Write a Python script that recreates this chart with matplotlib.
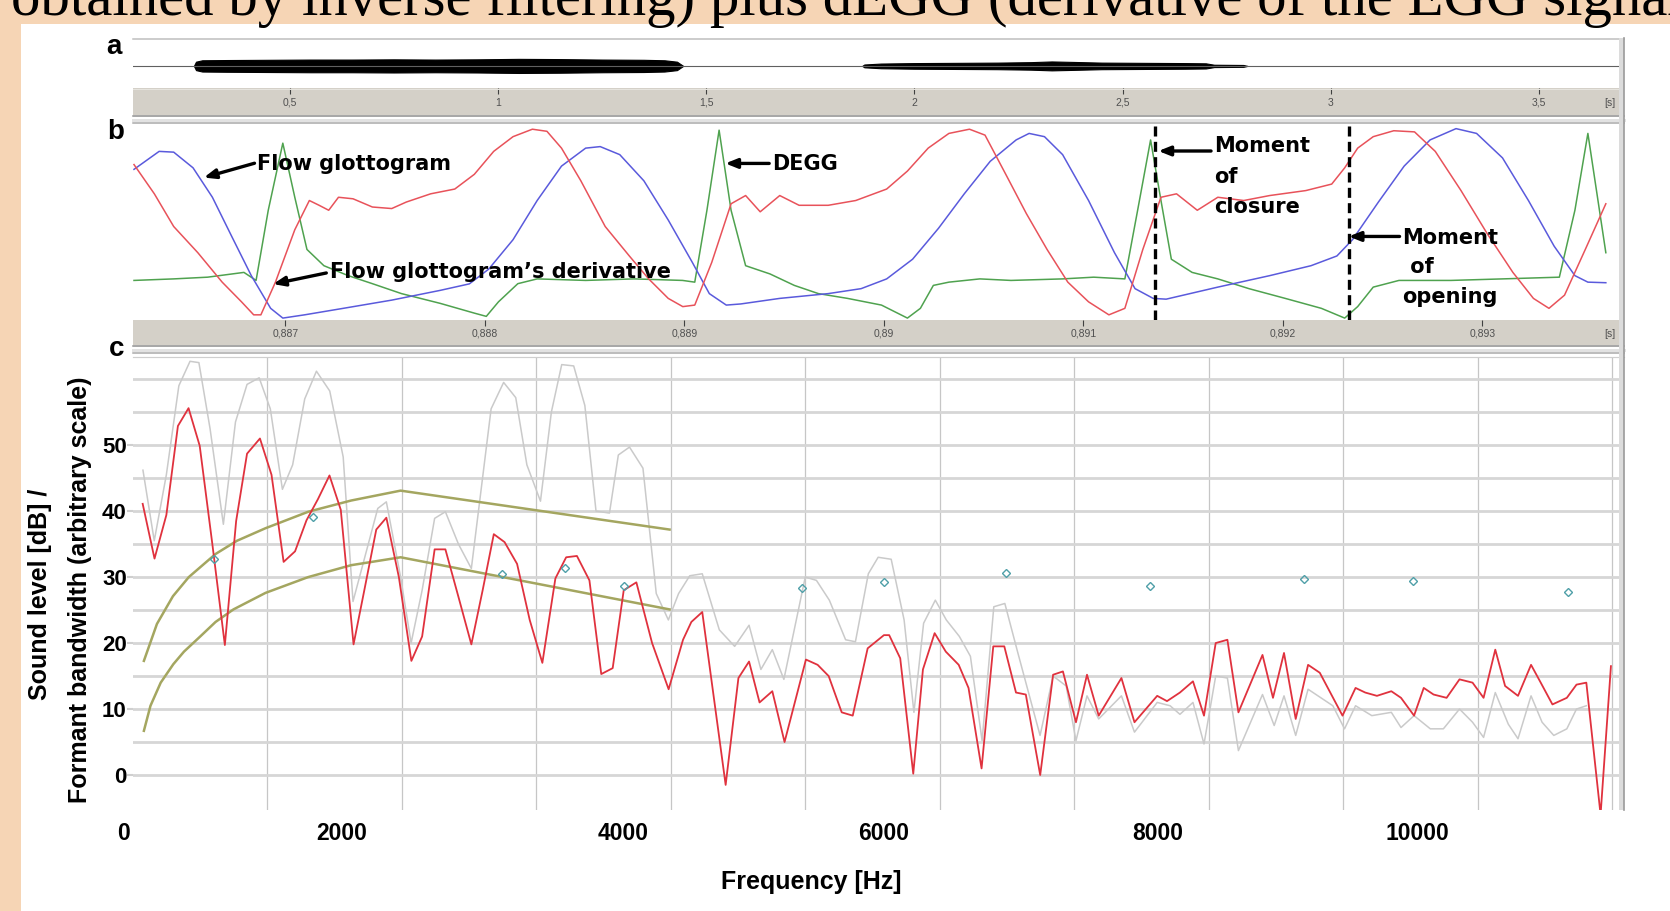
import matplotlib
matplotlib.use("Agg")
import matplotlib.pyplot as plt
import numpy as np
from matplotlib.patches import Rectangle
from matplotlib.lines import Line2D
from matplotlib import font_manager

# ---------------------------------------------------------------- data
title_text = "obtained by inverse filtering) plus dEGG (derivative of the EGG signal)"
title_visible = "obtained by inverse filtering) plus dEGG (derivative of the EGG signa"

# panel a : whole recording (time in s), waveform envelope
time_ticks_s = [0.5, 1.0, 1.5, 2.0, 2.5, 3.0, 3.5]
time_tick_labels = ["0,5", "1", "1,5", "2", "2,5", "3", "3,5"]
wave1_t = [0.27, 0.275, 0.29, 0.35, 0.45, 0.55, 0.65, 0.75, 0.85, 0.95, 1.05, 1.15, 1.25, 1.35, 1.40, 1.43, 1.445]
wave1_amp = [0.0, 0.18, 0.24, 0.25, 0.26, 0.27, 0.27, 0.28, 0.27, 0.28, 0.30, 0.29, 0.27, 0.26, 0.24, 0.18, 0.0]
wave2_t = [1.875, 1.88, 1.92, 2.0, 2.1, 2.2, 2.28, 2.33, 2.38, 2.45, 2.55, 2.65, 2.70, 2.72, 2.79, 2.80]
wave2_amp = [0.0, 0.06, 0.10, 0.12, 0.13, 0.14, 0.16, 0.19, 0.17, 0.14, 0.13, 0.12, 0.11, 0.05, 0.04, 0.0]

# panel b : zoomed signals (time in s, normalised amplitude 0..1)
zoom_ticks_s = [0.887, 0.888, 0.889, 0.890, 0.891, 0.892, 0.893]
zoom_tick_labels = ["0,887", "0,888", "0,889", "0,89", "0,891", "0,892", "0,893"]
flow_t = [0.886241, 0.886367, 0.886440, 0.886537, 0.886634, 0.886731, 0.886829, 0.886926,
          0.886987, 0.887096, 0.887290, 0.887533, 0.887776, 0.887922, 0.888019, 0.888141,
          0.888262, 0.888384, 0.888505, 0.888578, 0.888676, 0.888797, 0.888919, 0.889040,
          0.889125, 0.889210, 0.889283, 0.889478, 0.889721, 0.889886, 0.890014, 0.890144,
          0.890274, 0.890403, 0.890533, 0.890663, 0.890728, 0.890805, 0.890896, 0.891026,
          0.891156, 0.891259, 0.891350, 0.891415, 0.891674, 0.891934, 0.892141, 0.892271,
          0.892349, 0.892479, 0.892608, 0.892738, 0.892868, 0.892971, 0.893101, 0.893231,
          0.893360, 0.893464, 0.893529, 0.893619]
flow_v = [0.778, 0.872, 0.868, 0.786, 0.632, 0.427, 0.222, 0.051, 0.0, 0.017, 0.051, 0.094,
          0.145, 0.179, 0.256, 0.41, 0.615, 0.795, 0.889, 0.897, 0.855, 0.718, 0.513, 0.291,
          0.128, 0.068, 0.074, 0.103, 0.128, 0.154, 0.205, 0.308, 0.47, 0.65, 0.82, 0.932,
          0.966, 0.949, 0.855, 0.615, 0.342, 0.154, 0.103, 0.099, 0.162, 0.222, 0.274, 0.325,
          0.41, 0.607, 0.795, 0.932, 0.991, 0.966, 0.838, 0.615, 0.376, 0.222, 0.188, 0.185]
deriv_t = [0.886241, 0.886343, 0.886440, 0.886561, 0.886683, 0.886780, 0.886841, 0.886877,
           0.886950, 0.887047, 0.887120, 0.887169, 0.887217, 0.887266, 0.887339, 0.887436,
           0.887533, 0.887606, 0.887728, 0.887849, 0.887947, 0.888044, 0.888141, 0.888238,
           0.888311, 0.888384, 0.888481, 0.888603, 0.888724, 0.888821, 0.888919, 0.888992,
           0.889052, 0.889137, 0.889234, 0.889307, 0.889380, 0.889478, 0.889575, 0.889721,
           0.889859, 0.890014, 0.890118, 0.890222, 0.890326, 0.890429, 0.890507, 0.890611,
           0.890714, 0.890818, 0.890922, 0.891026, 0.891128, 0.891208, 0.891298, 0.891389,
           0.891467, 0.891571, 0.891674, 0.891804, 0.891934, 0.892115, 0.892245, 0.892310,
           0.892375, 0.892453, 0.892556, 0.892660, 0.892764, 0.892893, 0.893023, 0.893153,
           0.893256, 0.893334, 0.893412, 0.893516, 0.893619]
deriv_v = [0.803, 0.65, 0.479, 0.342, 0.188, 0.085, 0.017, 0.017, 0.188, 0.462, 0.615, 0.59,
           0.564, 0.632, 0.624, 0.581, 0.573, 0.607, 0.65, 0.675, 0.752, 0.872, 0.949, 0.988,
           0.977, 0.889, 0.718, 0.479, 0.325, 0.205, 0.103, 0.06, 0.068, 0.291, 0.598, 0.641,
           0.556, 0.641, 0.59, 0.59, 0.615, 0.675, 0.769, 0.889, 0.966, 0.988, 0.957, 0.752,
           0.547, 0.359, 0.188, 0.085, 0.017, 0.051, 0.359, 0.632, 0.65, 0.564, 0.632, 0.615,
           0.641, 0.667, 0.701, 0.786, 0.889, 0.949, 0.98, 0.974, 0.872, 0.667, 0.444, 0.239,
           0.103, 0.051, 0.12, 0.359, 0.598]
degg_t = [0.886241, 0.886440, 0.886610, 0.886792, 0.886853, 0.886914, 0.886987, 0.887047,
          0.887108, 0.887193, 0.887315, 0.887436, 0.887582, 0.887776, 0.887947, 0.888007,
          0.888068, 0.888165, 0.888262, 0.888505, 0.888748, 0.888991, 0.889052, 0.889113,
          0.889174, 0.889234, 0.889307, 0.889429, 0.889551, 0.889672, 0.889818, 0.889988,
          0.890118, 0.890183, 0.890248, 0.890326, 0.890481, 0.890637, 0.890896, 0.891052,
          0.891208, 0.891272, 0.891337, 0.891389, 0.891441, 0.891545, 0.891674, 0.891830,
          0.892012, 0.892193, 0.892310, 0.892375, 0.892453, 0.892582, 0.892842, 0.893101,
          0.893386, 0.893464, 0.893529, 0.893619]
degg_v = [0.197, 0.205, 0.214, 0.239, 0.197, 0.564, 0.915, 0.632, 0.359, 0.274, 0.222, 0.18,
          0.128, 0.077, 0.026, 0.009, 0.085, 0.18, 0.205, 0.197, 0.205, 0.197, 0.188, 0.564,
          0.983, 0.564, 0.274, 0.231, 0.171, 0.128, 0.103, 0.068, 0.0, 0.051, 0.171, 0.188,
          0.205, 0.197, 0.205, 0.214, 0.205, 0.564, 0.932, 0.615, 0.308, 0.239, 0.205, 0.154,
          0.103, 0.051, 0.0, 0.06, 0.162, 0.197, 0.197, 0.205, 0.214, 0.564, 0.966, 0.342]
moment_closure_s = 0.89136
moment_opening_s = 0.89233

# panel c : spectrum (Hz, dB)
spec_hz = [72, 160, 248, 334, 413, 496, 590, 683, 767, 848, 944, 1030, 1120, 1205, 1290, 1375,
           1461, 1545, 1640, 1720, 1809, 1884, 1977, 2070, 2150, 2243, 2323, 2420, 2516, 2600,
           2683, 2763, 2856, 2950, 3044, 3141, 3221, 3301, 3394, 3482, 3567, 3649, 3743, 3860,
           3983, 4090, 4152, 4233, 4407, 4502, 4581, 4659, 4754, 4845, 5004, 5091, 5173, 5270,
           5352, 5463, 5584, 5623, 5705, 5802, 5874, 5961, 6044, 6140, 6213, 6310, 6397, 6479,
           6566, 6639, 6746, 6842, 6915, 7012, 7094, 7181, 7350, 7447, 7616, 7689, 7785, 7882,
           7964, 8051, 8138, 8220, 8399, 8477, 8559, 8646, 8738, 8825, 8994, 9091, 9163, 9250,
           9357, 9429, 9526, 9598, 9671, 9768, 9864, 9961, 10043, 10130, 10203, 10299, 10396,
           10468, 10555, 10662, 10734, 10807, 10913, 10990]
spec_db = [41.1, 32.8, 39.4, 52.9, 55.6, 49.9, 35.0, 19.7, 38.5, 48.7, 51.0, 45.5, 32.3, 33.9,
           38.6, 41.8, 45.4, 40.2, 19.8, 28.0, 37.2, 39.0, 30.0, 17.3, 21.0, 34.2, 34.2, 27.0,
           19.8, 28.0, 36.5, 35.3, 32.0, 23.5, 17.0, 29.8, 33.0, 33.2, 29.5, 15.3, 16.2, 28.0,
           29.2, 20.0, 13.0, 20.5, 23.2, 24.7, -1.5, 14.7, 17.2, 11.0, 12.7, 5.0, 17.5, 16.7,
           15.0, 9.5, 9.0, 19.2, 21.2, 21.2, 17.7, 0.2, 16.0, 21.5, 18.7, 16.7, 13.2, 1.0,
           19.5, 19.5, 12.5, 12.2, 0.0, 15.2, 15.7, 8.0, 15.2, 9.0, 14.7, 8.0, 12.0, 11.2,
           12.5, 14.2, 9.0, 20.0, 20.5, 9.5, 18.2, 11.7, 18.5, 8.5, 16.7, 15.5, 9.0, 13.2,
           12.5, 12.0, 12.7, 11.7, 9.0, 13.2, 12.2, 11.7, 14.5, 14.0, 11.7, 19.0, 13.5, 12.0,
           16.7, 14.0, 10.7, 11.7, 13.7, 14.0, -6.0, 16.5]
raw_hz = [74, 158, 248, 341, 424, 490, 573, 672, 762, 848, 938, 1021, 1111, 1187, 1277, 1364,
          1463, 1563, 1636, 1820, 1884, 1990, 2068, 2150, 2243, 2323, 2420, 2516, 2663, 2756,
          2846, 2929, 3030, 3111, 3188, 3277, 3360, 3443, 3543, 3609, 3692, 3792, 3891, 3981,
          4057, 4140, 4233, 4360, 4474, 4581, 4669, 4754, 4840, 4999, 5082, 5178, 5299, 5372,
          5468, 5541, 5638, 5734, 5807, 5879, 5966, 6048, 6145, 6227, 6314, 6401, 6483, 6580,
          6745, 6842, 6939, 7012, 7094, 7181, 7350, 7447, 7616, 7712, 7785, 7882, 7964, 8051,
          8138, 8220, 8399, 8486, 8559, 8646, 8738, 8922, 9009, 9091, 9212, 9357, 9429, 9526,
          9647, 9744, 9864, 9961, 10043, 10130, 10227, 10299, 10396, 10478, 10565, 10662,
          10734, 10807]
raw_db = [46.2, 35.5, 45.5, 59.0, 62.7, 62.5, 52.5, 38.0, 53.5, 59.2, 60.2, 55.5, 43.3, 47.0,
          57.0, 61.2, 58.2, 48.2, 26.3, 40.4, 41.4, 30.0, 20.0, 28.0, 38.9, 39.9, 35.0, 31.3,
          55.5, 59.5, 57.2, 47.0, 41.5, 55.0, 62.2, 62.0, 56.0, 40.0, 39.7, 48.5, 49.7, 46.5,
          27.5, 23.5, 27.5, 30.2, 30.5, 22.0, 19.5, 22.7, 16.0, 19.0, 14.5, 30.0, 29.5, 26.5,
          20.5, 20.2, 30.5, 33.0, 32.7, 23.5, 9.5, 23.0, 26.5, 23.5, 21.0, 18.0, 5.2, 25.5,
          26.0, 18.5, 6.0, 15.0, 13.5, 5.2, 12.0, 8.5, 12.0, 6.5, 11.0, 10.5, 9.2, 11.0, 4.7,
          15.0, 14.7, 3.7, 12.2, 7.5, 12.0, 6.0, 13.0, 10.5, 7.0, 10.5, 9.0, 9.5, 7.2, 9.0,
          7.0, 7.0, 10.0, 8.0, 5.7, 12.5, 7.7, 5.5, 12.0, 8.0, 6.0, 7.0, 10.0, 10.5]
formant_hz = [600, 1335, 2745, 3210, 3652, 4975, 5585, 6490, 7560, 8705, 9520, 10670]
formant_db = [32.8, 39.1, 30.5, 31.3, 28.6, 28.4, 29.2, 30.6, 28.6, 29.7, 29.4, 27.7]
upper_hz = [81, 178, 297, 415, 614, 773, 985, 1303, 1622, 1990, 3990]
upper_db = [17.3, 22.9, 27.1, 30.0, 33.5, 35.5, 37.4, 39.9, 41.6, 43.1, 37.2]
lower_hz = [81, 130, 206, 300, 379, 500, 614, 747, 985, 1303, 1622, 1990, 3990]
lower_db = [6.7, 10.5, 14.0, 16.8, 18.7, 21.0, 23.2, 25.1, 27.6, 30.0, 31.8, 33.0, 25.1]
freq_tick_labels = ["0", "2000", "4000", "6000", "8000", "10000"]
level_ticks = [0, 10, 20, 30, 40, 50]
freq_grid_hz = list(range(1000, 11001, 1000))
level_grid_db = list(range(0, 61, 5))

# ---------------------------------------------------------------- style
W, H = 1670, 911
PEACH = "#F6D5B5"
BAND = "#D4D0C8"
names = {f.name for f in font_manager.fontManager.ttflist}
SANS = ["Liberation Sans", "DejaVu Sans"]
NARROW = (["Liberation Sans Narrow"] if "Liberation Sans Narrow" in names else []) + ["Liberation Sans", "DejaVu Sans"]
ANNOT = ["DejaVu Sans"]
SERIF = ["Liberation Serif", "DejaVu Serif"]

fig = plt.figure(figsize=(W / 100, H / 100), dpi=100)
fig.patch.set_facecolor(PEACH)


def rect(x0, y0, x1, y1):
    return [x0 / W, 1 - y1 / H, (x1 - x0) / W, (y1 - y0) / H]


def add_ax(x0, y0, x1, y1, fc="white"):
    ax = fig.add_axes(rect(x0, y0, x1, y1))
    ax.set_facecolor(fc)
    for s in ax.spines.values():
        s.set_visible(False)
    ax.set_xticks([])
    ax.set_yticks([])
    return ax


def hline(y, x0, x1, color, lw_px):
    fig.add_artist(Line2D([x0 / W, x1 / W], [1 - y / H, 1 - y / H], transform=fig.transFigure,
                          color=color, lw=lw_px * 0.72, zorder=3))


# white sheet
fig.add_artist(Rectangle((21 / W, 0), 1, 1 - 24 / H, transform=fig.transFigure,
                         facecolor="white", edgecolor="none", zorder=-5))

# title (cut by top edge)
probe = fig.text(0, 0, title_visible, fontsize=40, family=SERIF)
rend = fig.canvas.get_renderer()
wprobe = probe.get_window_extent(rend).width
probe.remove()
fs_title = 40 * (1655 / wprobe) * 100 / fig.dpi
fig.text(11 / W, 1 - 15 / H, title_text, fontsize=fs_title, family=SERIF,
         ha="left", va="baseline", color="black", zorder=10)

X0, X1 = 133, 1619

# ---------------- panel a
A_LIM = (0.1237, 3.6923)
ax_a = add_ax(X0, 41, X1, 88)
ax_a.set_xlim(*A_LIM)
ax_a.set_ylim(-0.94, 1.06)
ax_a.axhline(0, color="#606060", lw=0.8)
ax_a.fill_between(wave1_t, -np.array(wave1_amp), wave1_amp, color="black", lw=0.8)
ax_a.fill_between(wave2_t, -np.array(wave2_amp), wave2_amp, color="black", lw=0.8)

band_a = add_ax(X0, 88, X1, 115, BAND)
band_a.set_xlim(*A_LIM)
band_a.set_ylim(0, 1)
band_a.set_xticks(time_ticks_s)
band_a.tick_params(axis="x", top=True, bottom=False, direction="in", length=4, width=0.8,
                   color="#404040", labelbottom=False, labeltop=False)
for t, lab in zip(time_ticks_s, time_tick_labels):
    band_a.text(t, 0.45, lab, ha="center", va="center", fontsize=7.5, color="#505050", family=NARROW)
band_a.text(0.994, 0.45, "[s]", transform=band_a.transAxes, ha="center", va="center",
            fontsize=7.5, color="#505050", family=NARROW)

# ---------------- panel b
B_LIM = (0.886236, 0.893685)
ax_b = add_ax(X0, 125, X1, 320)
ax_b.set_xlim(*B_LIM)
ax_b.set_ylim(-0.01, 1.01)
ax_b.plot(degg_t, degg_v, color="#4fa24f", lw=1.1, zorder=3)
ax_b.plot(flow_t, flow_v, color="#5a5adc", lw=1.1, zorder=3)
ax_b.plot(deriv_t, deriv_v, color="#e8525a", lw=1.1, zorder=3)
for tm in (moment_closure_s, moment_opening_s):
    ax_b.axvline(tm, color="black", lw=2.4, ls=(0, (3, 1.6)), zorder=5)

arrow = dict(arrowstyle="-|>,head_length=0.7,head_width=0.28", color="black", lw=2.4,
             shrinkA=0, shrinkB=0)
annots = [
    ("Flow glottogram", (0.886860, 0.806), (0.886845, 0.810), (0.886591, 0.735), 1.3),
    ("Flow glottogram\u2019s derivative", (0.887222, 0.240), (0.887205, 0.236), (0.886938, 0.178), 1.3),
    ("DEGG", (0.889440, 0.806), (0.889425, 0.809), (0.889205, 0.809), 1.3),
    ("Moment\nof\nclosure", (0.891655, 0.739), (0.891640, 0.874), (0.891376, 0.874), 1.65),
    ("Moment\n of\nopening", (0.892600, 0.266), (0.892585, 0.427), (0.892330, 0.427), 1.6),
]
for txt, tpos, tail, tip, ls in annots:
    ax_b.annotate("", xy=tip, xytext=tail, arrowprops=arrow, zorder=6)
    ax_b.text(tpos[0], tpos[1], txt, ha="left", va="center", fontsize=15, fontweight="bold",
              family=ANNOT, linespacing=ls, zorder=7)

band_b = add_ax(X0, 320, X1, 345, BAND)
band_b.set_xlim(*B_LIM)
band_b.set_ylim(0, 1)
band_b.set_xticks(zoom_ticks_s)
band_b.tick_params(axis="x", top=True, bottom=False, direction="in", length=4, width=0.8,
                   color="#404040", labelbottom=False, labeltop=False)
for t, lab in zip(zoom_ticks_s, zoom_tick_labels):
    band_b.text(t, 0.45, lab, ha="center", va="center", fontsize=7.5, color="#505050", family=NARROW)
band_b.text(0.994, 0.45, "[s]", transform=band_b.transAxes, ha="center", va="center",
            fontsize=7.5, color="#505050", family=NARROW)

# ---------------- panel c
ax_c = add_ax(X0, 358, X1, 810)
ax_c.set_xlim(0, 11050)
ax_c.set_ylim(-5.3, 63.2)
for f in freq_grid_hz:
    ax_c.axvline(f, color="#c6c6c6", lw=0.9, zorder=1)
for d in level_grid_db:
    ax_c.axhline(d, color="#d6d6d6", lw=2.0, zorder=1)
ax_c.plot(raw_hz, raw_db, color="#cacaca", lw=1.1, zorder=2)
ax_c.plot(upper_hz, upper_db, color="#a4a660", lw=1.8, zorder=3)
ax_c.plot(lower_hz, lower_db, color="#a4a660", lw=1.8, zorder=3)
ax_c.plot(spec_hz, spec_db, color="#e0323e", lw=1.3, zorder=4)
ax_c.plot(formant_hz, formant_db, ls="none", marker="D", ms=4, mfc="none", mec="#4f9fa8",
          mew=1.0, zorder=5)

ax_c.set_yticks(level_ticks)
ax_c.set_yticklabels([str(v) for v in level_ticks], fontsize=16, fontweight="bold", family=SANS)
ax_c.tick_params(axis="y", length=4, width=1.5, color="#cfcfcf", pad=0.5)

freq_label_x_hz = [-70, 1555, 3645, 5585, 7620, 9550]   # where the labels sit in the image
xt = ax_c.get_xaxis_transform()
for xh, lab in zip(freq_label_x_hz, freq_tick_labels):
    ax_c.text(xh, -24 / 452, lab, transform=xt, ha="center", va="center", fontsize=16.5,
              fontweight="bold", family=NARROW, clip_on=False)
fig.text(811 / W, 1 - 882 / H, "Frequency [Hz]", ha="center", va="center", fontsize=18,
         fontweight="bold", family=NARROW)
fig.text(40 / W, 1 - 594 / H, "Sound level [dB] /", rotation=90, ha="center", va="center",
         fontsize=18, fontweight="bold", family=SANS)
fig.text(80 / W, 1 - 590 / H, "Formant bandwidth (arbitrary scale)", rotation=90, ha="center",
         va="center", fontsize=18, fontweight="bold", family=SANS)

# panel letters
for lab, (px, py) in zip(["a", "b", "c"], [(114, 47), (116, 132), (117, 349)]):
    fig.text(px / W, 1 - py / H, lab, ha="center", va="center", fontsize=20, fontweight="bold",
             family=SANS)

# frame decorations
hline(38.5, X0, 1624, "#bdbdbd", 1.5)
hline(88.5, X0, X1, "#e6e4de", 1.0)
hline(116, X0, 1624, "#8c8c8c", 1.5)
hline(119.5, X0, 1624, "#e2e2e2", 3.0)
hline(122.5, X0, 1624, "#a8a8a8", 1.5)
hline(345.5, X0, 1624, "#8c8c8c", 1.5)
hline(349.5, X0, 1624, "#e2e2e2", 3.0)
hline(353, X0, 1624, "#a8a8a8", 1.5)
hline(356.5, X0, 1624, "#cfcfcf", 1.2)
fig.add_artist(Rectangle((X1 / W, 1 - 810 / H), 5 / W, (810 - 38) / H, transform=fig.transFigure,
                         facecolor="#dcdcdc", edgecolor="none", zorder=3))
fig.add_artist(Line2D([1624 / W, 1624 / W], [1 - 38 / H, 1 - 810 / H], transform=fig.transFigure,
                      color="#9a9a9a", lw=1.2, zorder=3))

fig.savefig("out.png", dpi=100, facecolor=fig.get_facecolor())
